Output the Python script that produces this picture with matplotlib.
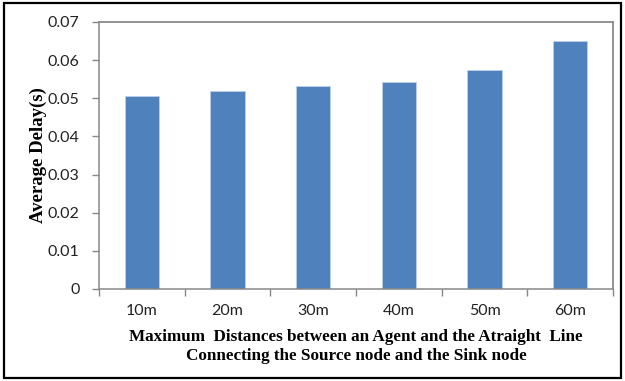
import matplotlib
matplotlib.use("Agg")
import matplotlib.pyplot as plt
from matplotlib.patches import Rectangle
import numpy as np

categories = ["10m", "20m", "30m", "40m", "50m", "60m"]
delays = [0.0505, 0.0520, 0.0533, 0.0542, 0.0575, 0.0650]
y_ticks = [0, 0.01, 0.02, 0.03, 0.04, 0.05, 0.06, 0.07]
y_tick_labels = ["0", "0.01", "0.02", "0.03", "0.04", "0.05", "0.06", "0.07"]

fig = plt.figure(figsize=(6.25, 3.81), dpi=100)
ax = fig.add_axes([0.1584, 0.2415, 0.8224, 0.7008])

x = np.arange(len(categories))
ax.bar(x, delays, width=0.4, color="#4F81BD", edgecolor="#BCD0EA", linewidth=0.6, zorder=2)

ax.set_xlim(-0.5, len(categories) - 0.5)
ax.set_ylim(0, 0.07)
ax.set_yticks(y_ticks)
ax.set_yticklabels(y_tick_labels)
ax.set_xticks(x)
ax.set_xticklabels(categories)
ax.set_xticks(np.arange(-0.5, len(categories), 1.0), minor=True)

tick_font = "Lato"
for lab in ax.get_xticklabels() + ax.get_yticklabels():
    lab.set_fontfamily(tick_font)
    lab.set_fontsize(11.5)
    lab.set_color("#222222")

ax.tick_params(axis="x", which="major", length=0, pad=10.5)
ax.tick_params(axis="x", which="minor", length=5, width=1, color="#888888")
ax.tick_params(axis="y", which="major", length=5, width=1, color="#888888", pad=9)

for side in ["left", "bottom"]:
    ax.spines[side].set_color("#888888")
    ax.spines[side].set_linewidth(1.1)
for side in ["top", "right"]:
    ax.spines[side].set_color("#8a8a8a")
    ax.spines[side].set_linewidth(1.3)

ax.set_ylabel("Average Delay(s)", fontfamily="Liberation Serif", fontweight="bold",
              fontsize=13.5, labelpad=0.5)
ax.set_xlabel("Maximum  Distances between an Agent and the Atraight  Line\n"
              "Connecting the Source node and the Sink node",
              fontfamily="Liberation Serif", fontweight="bold", fontsize=12.3,
              labelpad=8, linespacing=1.3)

# Outer frame around the whole figure
fig.patches.append(Rectangle((0.006, 0.008), 0.988, 0.984, transform=fig.transFigure,
                             fill=False, edgecolor="black", linewidth=1.6))

fig.savefig("out.png", dpi=100)
